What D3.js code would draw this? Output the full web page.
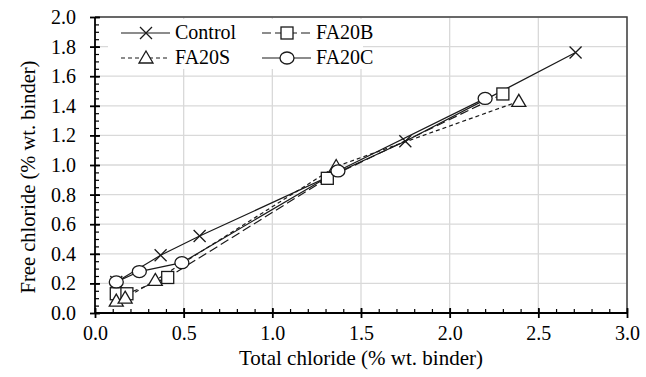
<!DOCTYPE html>
<html>
<head>
<meta charset="utf-8">
<script src="https://cdn.jsdelivr.net/npm/d3@7"></script>
<style>
  body { margin: 0; background: #fff; }
  svg text { font-family: "Liberation Serif", "Times New Roman", serif !important; fill: #000; }
</style>
</head>
<body>
<div id="chart"></div>
<script>
// Data
const controlX = [0.12, 0.37, 0.59, 1.75, 2.71];
const controlY = [0.21, 0.39, 0.52, 1.16, 1.76];
const fa20bX = [0.12, 0.18, 0.41, 1.31, 2.30];
const fa20bY = [0.13, 0.13, 0.24, 0.91, 1.48];
const fa20sX = [0.12, 0.17, 0.34, 1.36, 2.39];
const fa20sY = [0.08, 0.10, 0.22, 0.99, 1.43];
const fa20cX = [0.12, 0.25, 0.49, 1.37, 2.20];
const fa20cY = [0.21, 0.28, 0.34, 0.96, 1.45];

const xTicks = [0, 0.5, 1, 1.5, 2, 2.5, 3];
const yTicks = [0, 0.2, 0.4, 0.6, 0.8, 1.0, 1.2, 1.4, 1.6, 1.8, 2.0];

var margin = { top: 17, right: 19, bottom: 64, left: 95 },
  width = 646 - margin.left - margin.right,
  height = 377 - margin.top - margin.bottom;

const svg = d3.select("#chart")
  .append("svg")
  .attr("width", 646)
  .attr("height", 377)
  .append("g")
  .attr("transform", `translate(${margin.left}, ${margin.top})`);

const x = d3.scaleLinear().domain([0, 3]).range([0, width]);
const y = d3.scaleLinear().domain([0, 2]).range([height, 0]);

// grid
svg.append("g").selectAll("line")
  .data(yTicks.slice(1))
  .join("line")
  .attr("x1", 0).attr("x2", width)
  .attr("y1", d => y(d)).attr("y2", d => y(d))
  .attr("stroke", "#d9d9d9").attr("stroke-width", 1.3);
svg.append("g").selectAll("line")
  .data(xTicks.slice(1))
  .join("line")
  .attr("x1", d => x(d)).attr("x2", d => x(d))
  .attr("y1", 0).attr("y2", height)
  .attr("stroke", "#d9d9d9").attr("stroke-width", 1.3);

// frame top/right
svg.append("path")
  .attr("d", `M0,0H${width}V${height}`)
  .attr("fill", "none").attr("stroke", "#404040").attr("stroke-width", 1.5);

// series
const series = [
  { name: "Control", xs: controlX, ys: controlY, dash: null, marker: "x" },
  { name: "FA20B", xs: fa20bX, ys: fa20bY, dash: "9,4", marker: "square" },
  { name: "FA20S", xs: fa20sX, ys: fa20sY, dash: "4,3", marker: "triangle" },
  { name: "FA20C", xs: fa20cX, ys: fa20cY, dash: null, marker: "circle" }
];

const line = d3.line().x(d => x(d[0])).y(d => y(d[1]));

function drawMarker(g, type, cx, cy) {
  if (type === "x") {
    g.append("path")
      .attr("d", `M${cx - 6},${cy - 6}L${cx + 6},${cy + 6}M${cx - 6},${cy + 6}L${cx + 6},${cy - 6}`)
      .attr("stroke", "#1a1a1a").attr("stroke-width", 1.3).attr("fill", "none");
  } else if (type === "square") {
    g.append("rect")
      .attr("x", cx - 6).attr("y", cy - 6).attr("width", 12).attr("height", 12)
      .attr("fill", "#fff").attr("stroke", "#1a1a1a").attr("stroke-width", 1.3);
  } else if (type === "triangle") {
    g.append("path")
      .attr("d", `M${cx},${cy - 7}L${cx + 7},${cy + 5}L${cx - 7},${cy + 5}Z`)
      .attr("fill", "#fff").attr("stroke", "#1a1a1a").attr("stroke-width", 1.3);
  } else {
    g.append("ellipse")
      .attr("cx", cx).attr("cy", cy).attr("rx", 7).attr("ry", 6)
      .attr("fill", "#fff").attr("stroke", "#1a1a1a").attr("stroke-width", 1.3);
  }
}

series.forEach(s => {
  const pts = s.xs.map((v, i) => [v, s.ys[i]]);
  svg.append("path")
    .attr("d", line(pts))
    .attr("fill", "none")
    .attr("stroke", "#1a1a1a")
    .attr("stroke-width", 1.2)
    .attr("stroke-dasharray", s.dash);
});
series.forEach(s => {
  const g = svg.append("g");
  s.xs.forEach((v, i) => drawMarker(g, s.marker, x(v), y(s.ys[i])));
});

// axes: minor ticks inside, major ticks crossing
const xMinor = d3.range(0, 3.01, 0.1).map(v => +v.toFixed(1));
const yMinor = d3.range(0, 2.001, 0.05).map(v => +v.toFixed(2));

svg.append("g")
  .attr("transform", `translate(0, ${height})`)
  .call(d3.axisBottom(x).tickValues(xMinor).tickSize(-4).tickFormat(""))
  .call(g => g.selectAll("line").attr("stroke-width", 1.2))
  .call(g => g.select(".domain").remove());
svg.append("g")
  .call(d3.axisLeft(y).tickValues(yMinor).tickSize(-4).tickFormat(""))
  .call(g => g.selectAll("line").attr("stroke-width", 1.2))
  .call(g => g.select(".domain").remove());

const xAxis = svg.append("g")
  .attr("transform", `translate(0, ${height})`)
  .call(d3.axisBottom(x).tickValues(xTicks).tickSize(5).tickPadding(8).tickFormat(d3.format(".1f")));
xAxis.selectAll(".tick line").clone().attr("y2", -5);
xAxis.selectAll("line, .domain").attr("stroke-width", 1.8);
xAxis.select(".domain").attr("d", `M0,0H${width}`);
xAxis.selectAll("text").attr("font-size", "20px");

const yAxis = svg.append("g")
  .call(d3.axisLeft(y).tickValues(yTicks).tickSize(5).tickPadding(14).tickFormat(d3.format(".1f")));
yAxis.selectAll(".tick line").clone().attr("x2", 5);
yAxis.selectAll("line, .domain").attr("stroke-width", 1.8);
yAxis.select(".domain").attr("d", `M0,0V${height}`);
yAxis.selectAll("text").attr("font-size", "20px");

// axis titles
svg.append("text")
  .attr("x", width / 2)
  .attr("y", height + 52)
  .attr("text-anchor", "middle")
  .attr("font-size", "21px")
  .text("Total chloride (% wt. binder)");
svg.append("text")
  .attr("transform", `translate(${-60}, ${height / 2 + 12}) rotate(-90)`)
  .attr("text-anchor", "middle")
  .attr("font-size", "20.5px")
  .text("Free chloride (% wt. binder)");

// legend
const legend = svg.append("g").attr("transform", "translate(0, 2)");
legend.append("rect")
  .attr("x", 13).attr("width", 255).attr("height", 50).attr("fill", "#fff");
const legendPos = [[26, 14], [167, 14], [26, 39], [167, 39]];
series.forEach((s, i) => {
  const [lx, ly] = legendPos[i];
  legend.append("line")
    .attr("x1", lx).attr("x2", lx + 49)
    .attr("y1", ly).attr("y2", ly)
    .attr("stroke", "#1a1a1a").attr("stroke-width", 1.2)
    .attr("stroke-dasharray", s.dash);
  drawMarker(legend, s.marker, lx + 25, ly);
  legend.append("text")
    .attr("x", lx + 54)
    .attr("y", ly + 6)
    .attr("font-size", "20px")
    .text(s.name);
});
</script>
</body>
</html>
